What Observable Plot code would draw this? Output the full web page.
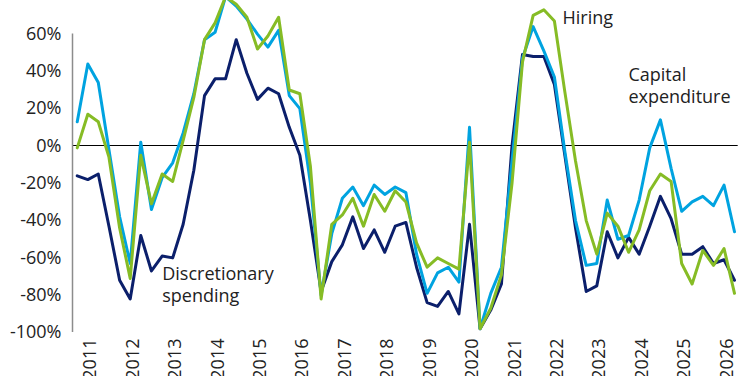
<!DOCTYPE html>
<html><head><meta charset="utf-8">
<script src="https://cdn.jsdelivr.net/npm/d3@7"></script>
<script src="https://cdn.jsdelivr.net/npm/@observablehq/plot@0.6"></script>
<style>
html,body{margin:0;padding:0;background:#fff;}
#chart svg{display:block;}
</style></head><body><div id="chart"></div>
<script>
const quarters = [
  "2010 Q3","2010 Q4",
  "2011 Q1","2011 Q2","2011 Q3","2011 Q4",
  "2012 Q1","2012 Q2","2012 Q3","2012 Q4",
  "2013 Q1","2013 Q2","2013 Q3","2013 Q4",
  "2014 Q1","2014 Q2","2014 Q3","2014 Q4",
  "2015 Q1","2015 Q2","2015 Q3","2015 Q4",
  "2016 Q1","2016 Q2","2016 Q3","2016 Q4",
  "2017 Q1","2017 Q2","2017 Q3","2017 Q4",
  "2018 Q1","2018 Q2","2018 Q3","2018 Q4",
  "2019 Q1","2019 Q2","2019 Q3","2019 Q4",
  "2020 Q1","2020 Q2","2020 Q3","2020 Q4",
  "2021 Q1","2021 Q2","2021 Q3","2021 Q4",
  "2022 Q1","2022 Q2","2022 Q3","2022 Q4",
  "2023 Q1","2023 Q2","2023 Q3","2023 Q4",
  "2024 Q1","2024 Q2","2024 Q3","2024 Q4",
  "2025 Q1","2025 Q2","2025 Q3","2025 Q4",
  "2026 Q1"
];
const discretionary = [
  -16,-18,
  -15,-43,-72,-82,
  -48,-67,-59,-60,
  -42,-13,27,36,
  36,57,39,25,
  31,28,10,-5,
  -40,-78,-62,-53,
  -38,-55,-45,-57,
  -43,-41,-65,-84,
  -86,-78,-90,-42,
  -98,-88,-74,0,
  49,48,48,33,
  -5,-44,-78,-75,
  -46,-60,-49,-58,
  -43,-27,-39,-58,
  -58,-54,-63,-61,
  -72
];
const capitalExpenditure = [
  13,44,
  34,-2,-38,-63,
  2,-34,-17,-9,
  7,28,57,61,
  80,75,68,60,
  53,62,27,20,
  -20,-80,-47,-28,
  -22,-32,-21,-26,
  -22,-25,-58,-79,
  -68,-65,-73,10,
  -98,-79,-65,-8,
  47,64,51,37,
  -3,-40,-64,-63,
  -29,-50,-48,-29,
  -1,14,-12,-35,
  -30,-27,-32,-21,
  -46
];
const hiring = [
  -1,17,
  13,-6,-44,-71,
  -5,-31,-15,-19,
  3,26,57,66,
  80,76,69,52,
  59,69,30,28,
  -11,-82,-42,-37,
  -28,-43,-26,-35,
  -24,-30,-52,-65,
  -60,-63,-66,2,
  -98,-87,-69,-20,
  45,70,73,67,
  29,-8,-40,-58,
  -36,-43,-57,-45,
  -24,-15,-19,-63,
  -74,-56,-64,-55,
  -79
];
const yTicks = [-100,-80,-60,-40,-20,0,20,40,60];
const yearTicks = [2011,2012,2013,2014,2015,2016,2017,2018,2019,2020,2021,2022,2023,2024,2025,2026];
const seriesNames = ["Discretionary spending","Capital expenditure","Hiring"];
const seriesColors = ["#0b1f6b","#00a3e0","#86bc25"];
const annotationLabels = ["Discretionary\nspending","Capital\nexpenditure","Hiring"];
const annotationYears = [2012.69, 2023.68, 2022.125];
const annotationValues = [-83.4, 23.3, 65.5];

// survey taken late in each quarter
const toDate = s => { const [y, q] = s.split(" Q").map(Number); return new Date(Date.UTC(y, 3*q - 1, 8)); };
const yearFracToDate = yf => new Date(Date.UTC(Math.floor(yf),0,1) + (yf - Math.floor(yf)) * 365.25 * 864e5);

const allSeries = [discretionary, capitalExpenditure, hiring];
const rows = [];
allSeries.forEach((vals, i) => vals.forEach((v, k) => rows.push({series: seriesNames[i], date: toDate(quarters[k]), value: v})));
const dates = quarters.map(toDate);
const annotations = annotationLabels.map((l, i) => ({label: l, date: yearFracToDate(annotationYears[i]), value: annotationValues[i]}));

const chart = Plot.plot({
  width: 743, height: 376,
  marginTop: 0, marginBottom: 44, marginLeft: 72, marginRight: 5.3,
  style: {fontFamily: "'Open Sans', sans-serif", fontSize: "18px", color: "#222", background: "#fff"},
  x: {type: "utc", domain: [dates[0], dates[dates.length-1]], insetLeft: 4.75, insetRight: 3.7},
  y: {domain: [-100, 78]},
  color: {domain: seriesNames, range: seriesColors},
  marks: [
    Plot.ruleY([0], {stroke: "#000", strokeWidth: 1.2, dy: -0.5}),
    Plot.ruleX([dates[0]], {y1: yTicks[0], y2: yTicks[yTicks.length-1], dx: -4.75, stroke: "#8c8c8c", strokeWidth: 1.5}),
    Plot.axisY({ticks: yTicks, tickSize: 0, tickPadding: 11, tickFormat: d => `${d}%`, label: null, fill: "#222"}),
    Plot.axisX({ticks: yearTicks.map(y => new Date(Date.UTC(y,0,1))), tickSize: 0, tickPadding: 6, tickRotate: -90,
      tickFormat: d => String(d.getUTCFullYear()), label: null, fill: "#222"}),
    Plot.line(rows, {x: "date", y: "value", z: "series", stroke: "series", strokeWidth: 3, strokeLinejoin: "round"}),
    Plot.text(annotations, {x: "date", y: "value", text: "label", textAnchor: "start", lineAnchor: "bottom",
      lineHeight: 1.17, fill: "#222", fontSize: 18})
  ]
});
document.getElementById("chart").appendChild(chart);
</script></body></html>
